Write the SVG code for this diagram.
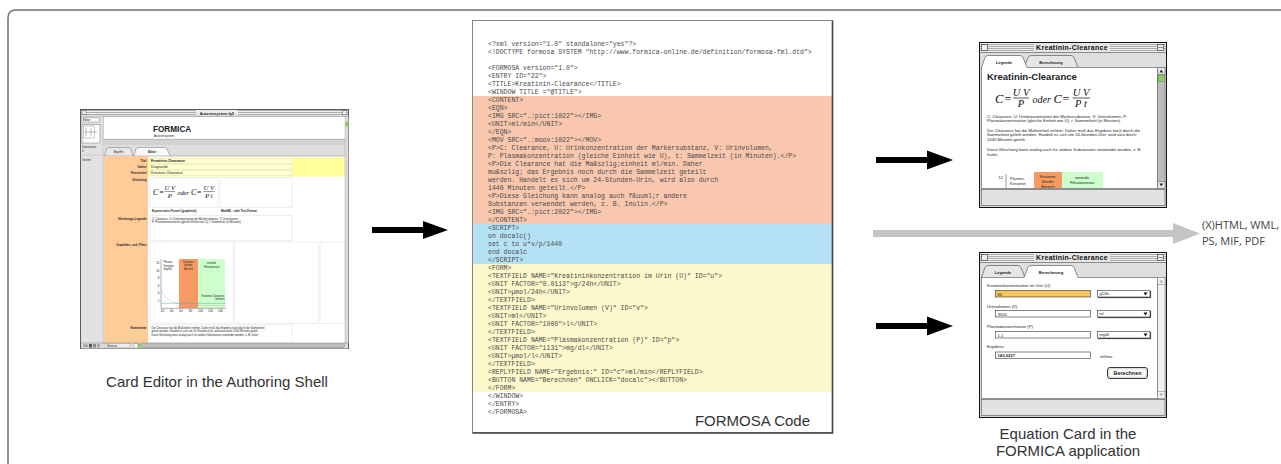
<svg xmlns="http://www.w3.org/2000/svg" width="1281" height="464" viewBox="0 0 1281 464">
<defs>
<pattern id="st" width="2" height="2" patternUnits="userSpaceOnUse"><rect width="2" height="2" fill="#efefef"/><rect width="2" height="0.8" fill="#9a9a9a"/></pattern>
<g id="formula">
<text class="fi" x="0" y="0" font-size="12.5">C</text>
<text class="fr" x="9.5" y="0" font-size="12">=</text>
<text class="fi" x="26" y="-7" font-size="10.5" text-anchor="middle">U V</text>
<line x1="18" y1="-4.5" x2="34" y2="-4.5" stroke="#111" stroke-width="0.7"/>
<text class="fi" x="26" y="4.8" font-size="10.5" text-anchor="middle">P</text>
<text class="fi" x="37.5" y="0" font-size="10">oder</text>
<text class="fi" x="58.5" y="0" font-size="12.5">C</text>
<text class="fr" x="67.5" y="0" font-size="12">=</text>
<text class="fi" x="86" y="-7" font-size="10.5" text-anchor="middle">U V</text>
<line x1="77.5" y1="-4.5" x2="95" y2="-4.5" stroke="#111" stroke-width="0.7"/>
<text class="fi" x="86" y="4.8" font-size="10.5" text-anchor="middle">P t</text>
</g>
<clipPath id="clipTop"><rect x="982" y="68" width="175" height="120"/></clipPath>
</defs>
<style>
.code{font-family:"Liberation Mono","DejaVu Sans Mono",monospace;font-size:6.5px;fill:#4a4a4a;white-space:pre}
.cap{font-family:"Liberation Sans",Arial,sans-serif;font-size:15px;fill:#333}
.out{font-family:"Open Sans","Noto Sans",sans-serif;font-size:11px;fill:#444}
.ui{font-family:"Liberation Sans",Arial,sans-serif;fill:#222}
.b{font-weight:bold}
.fi{font-family:"Liberation Serif","Times New Roman",serif;font-style:italic;fill:#111}
.fr{font-family:"Liberation Serif","Times New Roman",serif;fill:#111}
.ttl{font-family:"Liberation Sans",Arial,sans-serif;font-weight:bold;font-size:7px;fill:#111;letter-spacing:0.3px}
.arrow{fill:#000}
.s4{font-size:4.2px}
.fld{fill:#fff;stroke:#333;stroke-width:0.6}
</style>

<!-- outer frame -->
<path d="M8,464 V18 Q8,10 16,10 H1281" fill="none" stroke="#707070" stroke-width="1.5"/>

<!-- Card editor -->
<g id="card-editor">
<rect x="80.5" y="109.5" width="268" height="239" fill="#fff" stroke="#333" stroke-width="0.8"/>
<rect x="81" y="110" width="267" height="6" fill="url(#st)"/>
<rect x="196" y="110" width="42" height="6" fill="#eee"/>
<text class="ui b" x="217" y="114.6" font-size="3.8" text-anchor="middle">Autorensystem.fp5</text>
<rect x="82" y="110.8" width="4" height="4" fill="#eee" stroke="#444" stroke-width="0.4"/>
<rect x="342.5" y="110.8" width="4" height="4" fill="#eee" stroke="#444" stroke-width="0.4"/>
<line x1="81" y1="116.3" x2="348" y2="116.3" stroke="#444" stroke-width="0.5"/>
<rect x="81" y="116.5" width="22" height="226.5" fill="#e2e2e2"/>
<line x1="103.3" y1="116.5" x2="103.3" y2="343" stroke="#888" stroke-width="0.5"/>
<rect x="81.8" y="117.5" width="17.5" height="4.5" fill="#f6f6f6" stroke="#777" stroke-width="0.4"/>
<text class="ui" x="83" y="120.8" font-size="2.8">Editor</text>
<rect x="82" y="124.5" width="18" height="18.5" fill="#fff" stroke="#555" stroke-width="0.4"/>
<rect x="83.5" y="126" width="11" height="12" fill="none" stroke="#777" stroke-width="0.4"/>
<line x1="84" y1="132" x2="97" y2="132" stroke="#555" stroke-width="0.4"/>
<line x1="86" y1="128" x2="86" y2="136" stroke="#555" stroke-width="0.4"/>
<line x1="91" y1="128" x2="91" y2="136" stroke="#555" stroke-width="0.4"/>
<text class="ui" x="82" y="148" font-size="2.8">Datensätze:</text>
<text class="ui" x="82" y="151.5" font-size="2.8">4</text>
<line x1="81" y1="155" x2="103" y2="155" stroke="#aaa" stroke-width="0.4"/>
<text class="ui" x="82" y="160.5" font-size="2.8">Sortiert</text>
<text class="ui b" x="153" y="132" font-size="8.2">FORMICA</text>
<text class="ui" x="154" y="137" font-size="3">Autorensystem</text>
<rect x="103.5" y="139" width="241.5" height="6" fill="#d2d2d2"/>
<line x1="103.5" y1="139.3" x2="345" y2="139.3" stroke="#999" stroke-width="0.5"/>
<rect x="103.5" y="145" width="241.5" height="11" fill="#dedede"/>
<path d="M104.5,156 L106.5,149 Q107,147.5 108.5,147.5 H129 Q130.5,147.5 131,149 L133,156" fill="#e8e8e8" stroke="#555" stroke-width="0.4"/>
<text class="ui" x="118.5" y="153.3" font-size="2.8" text-anchor="middle">Begriffe</text>
<path d="M134,156 L136,149 Q136.5,147.5 138,147.5 H165 Q166.5,147.5 167,149 L170,156" fill="#f8f8f8" stroke="#555" stroke-width="0.4"/>
<text class="ui b" x="152" y="153.3" font-size="2.8" text-anchor="middle">Editor</text>
<line x1="103.5" y1="156" x2="345" y2="156" stroke="#666" stroke-width="0.4"/>
<rect x="103.5" y="156.2" width="44.5" height="186.8" fill="#ffcc99"/>
<rect x="148" y="157.5" width="197" height="19" fill="#ffff99"/>
<rect x="150" y="158.3" width="142" height="5.2" fill="#ffffd2" stroke="#ccc" stroke-width="0.3"/>
<rect x="150" y="164.3" width="142" height="5.2" fill="#ffffd2" stroke="#ccc" stroke-width="0.3"/>
<rect x="150" y="170.3" width="142" height="5.2" fill="#ffffd2" stroke="#ccc" stroke-width="0.3"/>
<text class="ui b" x="151" y="162.3" font-size="3.6">Kreatinin-Clearance</text>
<text class="ui" x="151" y="168.3" font-size="3.6" fill="#666">Diagnostik</text>
<text class="ui" x="151" y="174.3" font-size="3.6" fill="#666">Kreatinin-Clearance</text>
<g class="ui b" font-size="2.9" text-anchor="end">
<text x="146.5" y="162">Titel</text>
<text x="146.5" y="168">Gebiet</text>
<text x="146.5" y="174">Fenstertitel</text>
<text x="146.5" y="180.5">Gleichung</text>
<text x="146.5" y="220">Gleichungs-Legende</text>
<text x="146.5" y="245.5">Graphiken_und_Filme</text>
<text x="146.5" y="328.5">Kommentar</text>
</g>
<rect x="150" y="177.5" width="68" height="30" fill="#fff" stroke="#ddd" stroke-width="0.5"/>
<rect x="220" y="177.5" width="72" height="30" fill="#fff" stroke="#ddd" stroke-width="0.5"/>
<use href="#formula" transform="translate(153,194.5) scale(0.65)"/>
<text class="ui b" x="152" y="211.5" font-size="2.8">Expressionist Formel (graphisch)</text>
<text class="ui b" x="221" y="211.5" font-size="2.8">MathML - oder Text-Format</text>
<rect x="150" y="215.5" width="142" height="25" fill="#fff" stroke="#ddd" stroke-width="0.5"/>
<text class="ui" x="152" y="219.6" font-size="2.7">C: Clearance, U: Urinkonzentration der Markersubstanz, V: Urinvolumen,</text>
<text class="ui" x="152" y="223.2" font-size="2.7">P: Plasmakonzentration (gleiche Einheit wie U), t: Sammelzeit (in Minuten).</text>
<rect x="150" y="242" width="83" height="81.5" fill="#fff" stroke="#ddd" stroke-width="0.5"/>
<rect x="234.5" y="242" width="84" height="81.5" fill="#fff" stroke="#ddd" stroke-width="0.5"/>
<rect x="320" y="242" width="25" height="81.5" fill="#fff" stroke="#ddd" stroke-width="0.5"/>
<rect x="179" y="259" width="19" height="49" fill="#f79b63"/>
<rect x="198" y="259" width="27" height="49" fill="#ccffcc"/>
<line x1="161" y1="259" x2="161" y2="308.5" stroke="#333" stroke-width="0.4"/>
<line x1="161" y1="308.3" x2="226" y2="308.3" stroke="#333" stroke-width="0.4"/>
<path d="M161,289 C165,299 172,303 185,305 L226,305.8" fill="none" stroke="#c77fb8" stroke-width="0.5" stroke-dasharray="1,0.6"/>
<line x1="161" y1="303.3" x2="226" y2="303.3" stroke="#4fb0a8" stroke-width="0.5"/>
<g class="ui" font-size="3" text-anchor="end">
<text x="159.5" y="263.5">12</text><text x="159.5" y="271.5">10</text><text x="159.5" y="279.3">8</text>
<text x="159.5" y="287">6</text><text x="159.5" y="294.3">4</text><text x="159.5" y="301.8">2</text>
</g>
<g class="ui" font-size="3" text-anchor="middle">
<text x="162.5" y="312">20</text><text x="171.7" y="312">40</text><text x="181" y="312">60</text>
<text x="190.5" y="312">80</text><text x="200.5" y="312">100</text><text x="210.5" y="312">120</text><text x="220.5" y="312">140</text>
</g>
<g class="ui" font-size="2.6">
<text x="163.5" y="263">Plasma-</text><text x="163.5" y="266.5">Kreatinin</text><text x="163.5" y="270">(mg/dl)</text>
</g>
<g class="ui" font-size="2.6" text-anchor="middle">
<text x="188.5" y="262.5">Kreatinin-</text><text x="188.5" y="266">blinder</text><text x="188.5" y="269.5">Bereich</text>
<text x="211.5" y="264">normale</text><text x="211.5" y="267.5">Filtrationsrate</text>
</g>
<g class="ui" font-size="2.6" text-anchor="end">
<text x="224.5" y="296.5">Kreatinin-Clearance</text><text x="224.5" y="300">(ml/min)</text>
</g>
<rect x="150" y="325" width="142" height="18" fill="#fff" stroke="#ddd" stroke-width="0.5"/>
<text class="ui" x="151.5" y="328.6" font-size="2.7">Die Clearance hat die Maßeinheit ml/min. Daher muß das Ergebnis noch durch die Sammelzeit</text>
<text class="ui" x="151.5" y="332.2" font-size="2.7">geteilt werden. Handelt es sich um 24-Stunden-Urin, wird also durch 1440 Minuten geteilt.</text>
<text class="ui" x="151.5" y="335.8" font-size="2.7">Diese Gleichung kann analog auch für andere Substanzen verwendet werden, z. B. Inulin.</text>
<rect x="345" y="116.5" width="3.5" height="226.5" fill="#dcdcdc" stroke="#888" stroke-width="0.3"/>
<rect x="345.3" y="122" width="3" height="4.5" fill="#8ccc5e"/>
<rect x="81" y="343" width="267" height="5.5" fill="#dcdcdc"/>
<line x1="81" y1="343" x2="348" y2="343" stroke="#666" stroke-width="0.4"/>
<text class="ui" x="83" y="347.3" font-size="2.8">100</text>
<rect x="89" y="344" width="3" height="3.5" fill="#555"/>
<rect x="93" y="344" width="3" height="3.5" fill="#888"/>
<rect x="97" y="344" width="3" height="3.5" fill="#aaa"/>
<rect x="105" y="343.8" width="25" height="4" fill="#eee" stroke="#888" stroke-width="0.3"/>
<text class="ui" x="107" y="347" font-size="2.6">Editieren</text>
<rect x="134" y="343.8" width="3.5" height="4" fill="#fff" stroke="#666" stroke-width="0.3"/>
<rect x="138" y="343.8" width="3" height="4" fill="#8ccc5e"/>
<rect x="141.5" y="343.8" width="203" height="4" fill="#bdbdbd" stroke="#777" stroke-width="0.3"/>
</g>

<!-- FORMOSA code page -->
<g id="formosa-code">
<rect x="472.5" y="20.5" width="360" height="412" fill="#fff" stroke="#888" stroke-width="1"/>
<rect x="473" y="96" width="359" height="128" fill="#f8c7ae"/>
<rect x="473" y="224" width="359" height="40" fill="#b5e1f4"/>
<rect x="473" y="264" width="359" height="128" fill="#fdf8cb"/>
<line x1="832.5" y1="20.5" x2="832.5" y2="433.5" stroke="#444" stroke-width="1.6"/>
<line x1="472.5" y1="433" x2="833" y2="433" stroke="#444" stroke-width="1.6"/>
<g class="code">
<text x="488" y="46">&lt;?xml version="1.0" standalone="yes"?&gt;</text>
<text x="488" y="54">&lt;!DOCTYPE formosa SYSTEM "http://www.formica-online.de/definition/formosa-fml.dtd"&gt;</text>
<text x="488" y="70">&lt;FORMOSA version="1.0"&gt;</text>
<text x="488" y="78">&lt;ENTRY ID="22"&gt;</text>
<text x="488" y="86">&lt;TITLE&gt;Kreatinin-Clearance&lt;/TITLE&gt;</text>
<text x="488" y="94">&lt;WINDOW TITLE ="@TITLE"&gt;</text>
<text x="488" y="102">&lt;CONTENT&gt;</text>
<text x="488" y="110">&lt;EQN&gt;</text>
<text x="488" y="118">&lt;IMG SRC=".:pict:1022"&gt;&lt;/IMG&gt;</text>
<text x="488" y="126">&lt;UNIT&gt;ml/min&lt;/UNIT&gt;</text>
<text x="488" y="134">&lt;/EQN&gt;</text>
<text x="488" y="142">&lt;MOV SRC=".:moov:1022"&gt;&lt;/MOV&gt;</text>
<text x="488" y="150">&lt;P&gt;C: Clearance, U: Urinkonzentration der Markersubstanz, V: Urinvolumen,</text>
<text x="488" y="158">P: Plasmakonzentration (gleiche Einheit wie U), t: Sammelzeit (in Minuten).&lt;/P&gt;</text>
<text x="488" y="166">&lt;P&gt;Die Clearance hat die Ma&amp;szlig;einheit ml/min. Daher</text>
<text x="488" y="174">mu&amp;szlig; das Ergebnis noch durch die Sammelzeit geteilt</text>
<text x="488" y="182">werden. Handelt es sich um 24-Stunden-Urin, wird also durch</text>
<text x="488" y="190">1440 Minuten geteilt.&lt;/P&gt;</text>
<text x="488" y="198">&lt;P&gt;Diese Gleichung kann analog auch f&amp;uuml;r andere</text>
<text x="488" y="206">Substanzen verwendet werden, z. B. Inulin.&lt;/P&gt;</text>
<text x="488" y="214">&lt;IMG SRC=".:pict:2022"&gt;&lt;/IMG&gt;</text>
<text x="488" y="222">&lt;/CONTENT&gt;</text>
<text x="488" y="230">&lt;SCRIPT&gt;</text>
<text x="488" y="238">on docalc()</text>
<text x="488" y="246">set c to u*v/p/1440</text>
<text x="488" y="254">end docalc</text>
<text x="488" y="262">&lt;/SCRIPT&gt;</text>
<text x="488" y="270">&lt;FORM&gt;</text>
<text x="488" y="278">&lt;TEXTFIELD NAME="Kreatininkonzentration im Urin (U)" ID="u"&gt;</text>
<text x="488" y="286">&lt;UNIT FACTOR="0.0113"&gt;g/24h&lt;/UNIT&gt;</text>
<text x="488" y="294">&lt;UNIT&gt;µmol/24h&lt;/UNIT&gt;</text>
<text x="488" y="302">&lt;/TEXTFIELD&gt;</text>
<text x="488" y="310">&lt;TEXTFIELD NAME="Urinvolumen (V)" ID="v"&gt;</text>
<text x="488" y="318">&lt;UNIT&gt;ml&lt;/UNIT&gt;</text>
<text x="488" y="326">&lt;UNIT FACTOR="1000"&gt;l&lt;/UNIT&gt;</text>
<text x="488" y="334">&lt;/TEXTFIELD&gt;</text>
<text x="488" y="342">&lt;TEXTFIELD NAME="Plasmakonzentration (P)" ID="p"&gt;</text>
<text x="488" y="350">&lt;UNIT FACTOR="1131"&gt;mg/dl&lt;/UNIT&gt;</text>
<text x="488" y="358">&lt;UNIT&gt;µmol/l&lt;/UNIT&gt;</text>
<text x="488" y="366">&lt;/TEXTFIELD&gt;</text>
<text x="488" y="374">&lt;REPLYFIELD NAME="Ergebnis:" ID="c"&gt;ml/min&lt;/REPLYFIELD&gt;</text>
<text x="488" y="382">&lt;BUTTON NAME="Berechnen" ONCLICK="docalc"&gt;&lt;/BUTTON&gt;</text>
<text x="488" y="390">&lt;/FORM&gt;</text>
<text x="488" y="398">&lt;/WINDOW&gt;</text>
<text x="488" y="406">&lt;/ENTRY&gt;</text>
<text x="488" y="414">&lt;/FORMOSA&gt;</text>
</g>
</g>

<!-- Legende card window -->
<g id="card-legende">
<rect x="979.5" y="42.5" width="187" height="165" fill="#d8d8d8" stroke="#111" stroke-width="1"/>
<rect x="980" y="43" width="186" height="9" fill="url(#st)"/>
<rect x="1034" y="43" width="76" height="9" fill="#e6e6e6"/>
<text class="ttl" x="1072" y="50.3" text-anchor="middle">Kreatinin-Clearance</text>
<rect x="981.5" y="44.5" width="6" height="6" fill="#eee" stroke="#333" stroke-width="0.6"/>
<rect x="1157.5" y="44.5" width="6" height="6" fill="#eee" stroke="#333" stroke-width="0.6"/>
<line x1="1158" y1="47.5" x2="1163" y2="47.5" stroke="#333" stroke-width="0.5"/>
<line x1="980" y1="52.5" x2="1166" y2="52.5" stroke="#555" stroke-width="0.6"/>
<rect x="980" y="53" width="186" height="14.5" fill="#dedede"/>
<path d="M1024,67.5 L1028,57.5 Q1029,55.5 1031,55.5 H1071 Q1073,55.5 1074,57.5 L1078,67.5" fill="#e6e6e6" stroke="#444" stroke-width="0.6"/>
<text class="ui b" x="1051" y="63.5" font-size="4" text-anchor="middle" fill="#777">Berechnung</text>
<rect x="981.5" y="67.5" width="176" height="121" fill="#fff" stroke="#555" stroke-width="0.6"/>
<path d="M981.5,67.5 L985,57.5 Q986,55.5 988,55.5 H1020 Q1022,55.5 1023,57.5 L1027,67.5" fill="#fff" stroke="#444" stroke-width="0.6"/>
<line x1="982" y1="67.5" x2="1026.5" y2="67.5" stroke="#fff" stroke-width="1"/>
<text class="ui b" x="1004" y="63.5" font-size="4" text-anchor="middle">Legende</text>
<text class="ui b" x="987" y="79.5" font-size="9.5" fill="#000">Kreatinin-Clearance</text>
<use href="#formula" transform="translate(995,102.5)"/>
<g class="ui s4">
<text x="987" y="117.5">C: Clearance, U: Urinkonzentration der Markersubstanz, V: Urinvolumen, P:</text>
<text x="987" y="122">Plasmakonzentration (gleiche Einheit wie U), t: Sammelzeit (in Minuten).</text>
<text x="987" y="131.5">Die Clearance hat die Maßeinheit ml/min. Daher muß das Ergebnis noch durch die</text>
<text x="987" y="136">Sammelzeit geteilt werden. Handelt es sich um 24-Stunden-Urin, wird also durch</text>
<text x="987" y="140.5">1440 Minuten geteilt.</text>
<text x="987" y="151">Diese Gleichung kann analog auch für andere Substanzen verwendet werden, z. B.</text>
<text x="987" y="155.5">Inulin.</text>
</g>
<g clip-path="url(#clipTop)">
<rect x="1034" y="172" width="28" height="20" fill="#f79b63"/>
<rect x="1062" y="172" width="41" height="20" fill="#ccffcc"/>
<line x1="1006" y1="174" x2="1006" y2="192" stroke="#333" stroke-width="0.5"/>
<g class="ui" font-size="4">
<text x="1003" y="178.5" text-anchor="end">12</text>
<text x="1010" y="179.5">Plasma-</text>
<text x="1010" y="184.5">Kreatinin</text>
<text x="1048" y="177.5" text-anchor="middle">Kreatinin-</text>
<text x="1048" y="182.5" text-anchor="middle">blinder</text>
<text x="1048" y="187.5" text-anchor="middle">Bereich</text>
<text x="1082" y="178.5" text-anchor="middle">normale</text>
<text x="1082" y="183.5" text-anchor="middle">Filtrationsrate</text>
</g>
</g>
<rect x="1157.5" y="67.5" width="7.5" height="121" fill="#bdbdbd" stroke="#555" stroke-width="0.5"/>
<rect x="1157.5" y="67.5" width="7.5" height="7" fill="#e8e8e8" stroke="#555" stroke-width="0.5"/>
<path d="M1159.3,72.5 L1163.2,72.5 L1161.25,69.8 Z" fill="#222"/>
<rect x="1157.5" y="181.5" width="7.5" height="7" fill="#e8e8e8" stroke="#555" stroke-width="0.5"/>
<path d="M1159.3,183.5 L1163.2,183.5 L1161.25,186.2 Z" fill="#222"/>
<rect x="1158.3" y="75" width="5.9" height="6.5" fill="#8ccc5e" stroke="#3d7a2a" stroke-width="0.4"/>
<rect x="981.5" y="189.5" width="183.5" height="16" fill="#e2e2e2" stroke="#555" stroke-width="0.6"/>
</g>

<!-- Berechnung card window -->
<g id="card-berechnung">
<rect x="979.5" y="252.5" width="187" height="165" fill="#d8d8d8" stroke="#111" stroke-width="1"/>
<rect x="980" y="253" width="186" height="9" fill="url(#st)"/>
<rect x="1034" y="253" width="76" height="9" fill="#e6e6e6"/>
<text class="ttl" x="1072" y="260.3" text-anchor="middle">Kreatinin-Clearance</text>
<rect x="981.5" y="254.5" width="6" height="6" fill="#eee" stroke="#333" stroke-width="0.6"/>
<rect x="1157.5" y="254.5" width="6" height="6" fill="#eee" stroke="#333" stroke-width="0.6"/>
<line x1="1158" y1="257.5" x2="1163" y2="257.5" stroke="#333" stroke-width="0.5"/>
<line x1="980" y1="262.5" x2="1166" y2="262.5" stroke="#555" stroke-width="0.6"/>
<rect x="980" y="263" width="186" height="14.5" fill="#dedede"/>
<path d="M981.5,277.5 L985,267.5 Q986,265.5 988,265.5 H1018 Q1020,265.5 1021,267.5 L1025,277.5" fill="#e6e6e6" stroke="#444" stroke-width="0.6"/>
<text class="ui b" x="1003" y="273.5" font-size="4" text-anchor="middle" fill="#777">Legende</text>
<rect x="981.5" y="277.5" width="176" height="121" fill="#fff" stroke="#555" stroke-width="0.6"/>
<path d="M1024,277.5 L1028,267.5 Q1029,265.5 1031,265.5 H1071 Q1073,265.5 1074,267.5 L1078,277.5" fill="#fff" stroke="#444" stroke-width="0.6"/>
<line x1="1024.5" y1="277.5" x2="1077.5" y2="277.5" stroke="#fff" stroke-width="1"/>
<text class="ui b" x="1051" y="273.5" font-size="4.2" text-anchor="middle">Berechnung</text>
<g class="ui s4">
<text x="987" y="286.5">Kreatininkonzentration im Urin (U)</text>
<text x="987" y="308">Urinvolumen (V)</text>
<text x="987" y="327.5">Plasmakonzentration (P)</text>
<text x="987" y="348">Ergebnis:</text>
<text x="1100" y="357.5">ml/min</text>
</g>
<rect x="995.5" y="290.5" width="95" height="6.5" fill="#fbc659" stroke="#333" stroke-width="0.6"/>
<rect x="995.5" y="310.5" width="95" height="6.5" class="fld"/>
<rect x="995.5" y="331.5" width="95" height="6.5" class="fld"/>
<rect x="995.5" y="352" width="95" height="6.5" class="fld"/>
<g class="ui s4">
<text x="997.5" y="295.6">65</text>
<text x="997.5" y="315.6">3500</text>
<text x="997.5" y="336.6">1,1</text>
<text x="997.5" y="357.1" class="b">143,6237</text>
</g>
<rect x="1097.5" y="290.5" width="52.5" height="6.5" class="fld"/>
<rect x="1097.5" y="310.5" width="52.5" height="6.5" class="fld"/>
<rect x="1097.5" y="331.5" width="52.5" height="6.5" class="fld"/>
<path d="M1150.6,291 V297.6 H1098" fill="none" stroke="#222" stroke-width="0.9"/>
<path d="M1150.6,311 V317.6 H1098" fill="none" stroke="#222" stroke-width="0.9"/>
<path d="M1150.6,332 V338.6 H1098" fill="none" stroke="#222" stroke-width="0.9"/>
<g class="ui" font-size="3.8">
<text x="1099.5" y="295.4">g/24h</text>
<text x="1099.5" y="315.4">ml</text>
<text x="1099.5" y="336.4">mg/dl</text>
</g>
<path d="M1143.5,292.6 H1147.5 L1145.5,295.4 Z M1143.5,312.6 H1147.5 L1145.5,315.4 Z M1143.5,333.6 H1147.5 L1145.5,336.4 Z" fill="#111"/>
<rect x="1107.5" y="367.5" width="40" height="11" rx="2.5" fill="#fff" stroke="#222" stroke-width="0.9"/>
<rect x="1108.8" y="368.8" width="37.4" height="8.4" rx="1.8" fill="none" stroke="#888" stroke-width="0.4"/>
<text class="ui b" x="1127.5" y="375.2" font-size="5.4" text-anchor="middle" fill="#111">Berechnen</text>
<rect x="1157.5" y="277.5" width="7.5" height="121" fill="#f2f2f2" stroke="#555" stroke-width="0.5"/>
<rect x="1157.5" y="277.5" width="7.5" height="7" fill="#f2f2f2" stroke="#777" stroke-width="0.5"/>
<path d="M1159.3,282.5 L1163.2,282.5 L1161.25,279.8 Z" fill="#aaa"/>
<rect x="1157.5" y="391.5" width="7.5" height="7" fill="#f2f2f2" stroke="#777" stroke-width="0.5"/>
<path d="M1159.3,393.5 L1163.2,393.5 L1161.25,396.2 Z" fill="#aaa"/>
<rect x="981.5" y="399.5" width="183.5" height="16" fill="#e2e2e2" stroke="#555" stroke-width="0.6"/>
</g>

<!-- connectors -->
<g id="connectors">
<path class="arrow" d="M372,227 H423 V221 L448,230 L423,239 V233 H372 Z"/>
<path class="arrow" d="M876,157 H927 V150.5 L953,160 L927,169.5 V163 H876 Z"/>
<path class="arrow" d="M876,323 H927 V316.5 L953,326 L927,335.5 V329 H876 Z"/>
<path d="M873,230 H1173 V223 L1200,233.5 L1173,244 V237 H873 Z" fill="#c4c4c4"/>
</g>

<!-- captions -->
<g id="captions">
<text class="cap" x="217" y="387" text-anchor="middle">Card Editor in the Authoring Shell</text>
<text class="cap" x="810" y="425.5" text-anchor="end">FORMOSA Code</text>
<text class="cap" x="1068" y="438.5" text-anchor="middle">Equation Card in the</text>
<text class="cap" x="1068" y="455.8" text-anchor="middle">FORMICA application</text>
<text class="out" x="1202" y="229">(X)HTML, WML,</text>
<text class="out" x="1202" y="245">PS, MIF, PDF</text>
</g>
</svg>
